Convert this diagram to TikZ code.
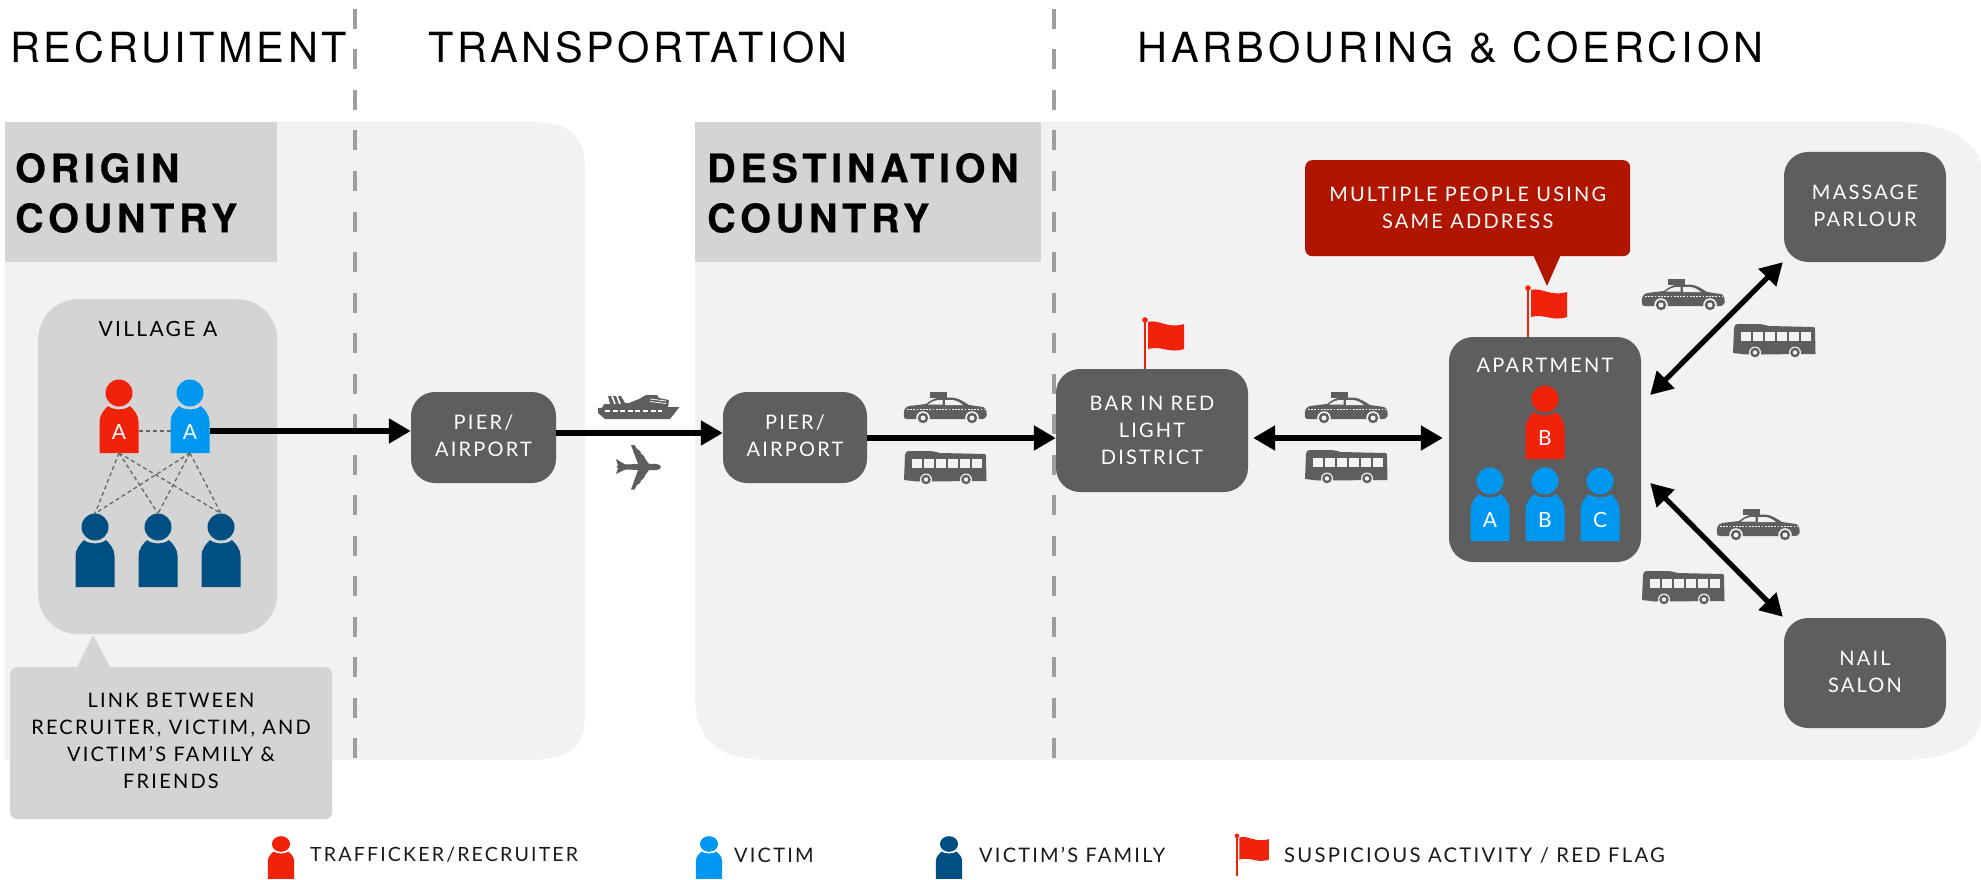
\documentclass[tikz,border=0pt]{standalone}
\usepackage{fontspec}
\usetikzlibrary{arrows.meta,calc}
\newfontfamily\lt[LetterSpace=11]{Lato}
\newfontfamily\hv[LetterSpace=8.5]{TeX Gyre Heros}
\newfontfamily\hvw[LetterSpace=9.6]{TeX Gyre Heros}
\newfontfamily\hvb[LetterSpace=12,BoldFeatures={FakeBold=0.5}]{TeX Gyre Heros}
\definecolor{bgfill}{HTML}{F2F2F2}
\definecolor{hdr}{HTML}{D4D4D4}
\definecolor{dk}{HTML}{5E5E5E}
\definecolor{rd}{HTML}{F0220A}
\definecolor{bl}{HTML}{0097F0}
\definecolor{nv}{HTML}{004F82}
\definecolor{crim}{HTML}{B01500}
\newcommand\sz[1]{\fontsize{#1}{27}\selectfont}
\tikzset{
  plate/.style={fill=dk,text=white,rounded corners=24pt,inner sep=0pt,align=center,font=\lt\sz{20},text depth=3pt},
  bigarrow/.style={draw=black,line width=5.2pt,-{Triangle[length=22pt,width=24pt]}},
  bothway/.style={draw=black,line width=5.2pt,{Triangle[length=22pt,width=24pt]}-{Triangle[length=22pt,width=24pt]}},
  tie/.style={draw=black!60,line width=1.3pt,dash pattern=on 4pt off 3pt},
  divider/.style={draw=black!38,line width=3.4pt,dash pattern=on 20pt off 20.5pt},
  title/.style={font=\hv\sz{41.5},text=black,inner sep=0pt,anchor=west},
  country/.style={font=\hvb\bfseries\fontsize{39.5}{50}\selectfont,text=black,inner sep=0pt,anchor=west,align=left},
  caption/.style={font=\lt\sz{20},text=black,inner sep=0pt,align=center},
  legend/.style={font=\lt\sz{20},text=black!90,inner sep=0pt,anchor=west},
}
% person: name, x, y of head centre, colour, label, xscale, yscale
\newcommand\humanfig[7]{%
  \begin{scope}[shift={(#2,#3)},xscale=#6,yscale=#7]
    \fill[#4] (0,0) circle (13.5);
    \fill[#4] (-19.5,60) -- (-19.5,29) .. controls (-19.5,22) and (-15,17) .. (-11,13)
      .. controls (-6,17.5) and (6,17.5) .. (11,13)
      .. controls (15,17) and (19.5,22) .. (19.5,29) -- (19.5,60) -- cycle;
    \coordinate (#1-foot) at (0,60);
    \coordinate (#1-top) at (0,-13.5);
    \coordinate (#1-e) at (19.5,38);
    \coordinate (#1-w) at (-19.5,38);
    \node[text=white,font=\lt\sz{21},inner sep=0pt] (#1-l) at (0,39) {#5};
  \end{scope}}
% flag: name, x, y of pole base, scale
\newcommand\flagmark[4]{%
  \begin{scope}[shift={(#2,#3)},scale=#4]
    \coordinate (#1) at (0,0);
    \fill[rd] (-1.2,0) -- (-1.2,-49) -- (1.2,-49) -- (1.2,0) -- cycle;
    \fill[rd] (0,-49) circle (2.8);
    \fill[rd] (3,-47) .. controls (14,-50) and (22,-40) .. (39,-45) -- (39,-20)
      .. controls (24,-15) and (16,-24) .. (3,-20) -- cycle;
  \end{scope}}
\tikzset{
  pics/taxi/.style={code={
    \fill[dk] (-15,-16) rectangle (2,-10.5);
    \fill[dk] (-41,8) .. controls (-42,3) and (-40,-1) .. (-36,-2) -- (-19,-4) .. controls (-14,-8) and (-9,-10.5) .. (-5,-10.5)
       -- (7,-10.5) .. controls (14,-10) and (19,-6) .. (24,-3) -- (38,-1) .. controls (41,0) and (42,4) .. (41.5,8)
       .. controls (41,11) and (38,11) .. (36,11) -- (-38,11) .. controls (-41,11) and (-41,10) .. (-41,8) -- cycle;
    \fill[#1] (-17,-3.5) .. controls (-13,-6.5) and (-10,-8) .. (-5,-8) -- (-2.5,-8) -- (-2.5,-3.5) -- cycle;
    \fill[#1] (0,-8) -- (6,-8) .. controls (11,-8) and (14,-6) .. (18,-3) -- (0,-3) -- cycle;
    \draw[#1,line width=1.6pt,dash pattern=on 1.8pt off 1.4pt] (-38,1.5) -- (39,1.5);
    \foreach \wx in {-22,27}{
      \fill[#1] (\wx,10) circle (6.8);
      \fill[dk] (\wx,10) circle (5.2);
      \fill[#1] (\wx,10) circle (2.5);}
  }},
  pics/bus/.style={code={
    \fill[dk] (-41,13) -- (-40,-12) .. controls (-40,-15) and (-38,-16) .. (-36,-16) -- (-17,-16)
       .. controls (-12,-16) and (-9,-15) .. (-5,-14) -- (39,-13) .. controls (41,-13) and (41,-12) .. (41,-10) -- (41.5,14) -- (-28,14.5) -- cycle;
    \foreach \wi in {0,...,5}{
      \fill[#1] ({-33+\wi*12},-8.5) rectangle ({-23.3+\wi*12},0.5);}
    \foreach \wx in {-19,21}{
      \fill[#1] (\wx,12.5) circle (6);
      \fill[dk] (\wx,12.5) circle (4.8);
      \fill[#1] (\wx,12.5) circle (2.2);}
  }},
  pics/ship/.style={code={
    \fill[dk] (-40,1) -- (41.5,0) -- (32,12) -- (-33,12) -- (-40,6) -- cycle;
    \fill[dk] (-36,1) -- (-34,-3) -- (-28,-3) -- (-30,-11) -- (-27,-11) -- (-24,-3) -- (-22,-3) -- (-25,-11) -- (-22,-11) -- (-19,-3) -- (-17,-3) -- (-20,-11) -- (-17,-11) -- (-13,-4) -- (-9,-4) -- (1,-8) -- (8,-12) -- (19,-12) -- (21,-9) -- (31,-7) -- (30,1) -- cycle;
    \draw[#1,line width=.8pt] (12,-8) -- (28,-6) (12,-5.5) -- (28,-3.5);
    \draw[#1,line width=1.8pt,dash pattern=on 5pt off 2.6pt] (-33,4) -- (24,4);
  }},
  pics/plane/.style={code={
    \fill[dk] (-20,-2.5) -- (18,-3.2) .. controls (21,-3.2) and (23,-1) .. (23,0) .. controls (23,1) and (21,3.2) .. (18,3.2) -- (-18,2.5) -- cycle;
    \fill[dk] (0,-3) -- (-7,-22) -- (-3.5,-22) -- (-1,-18) -- (2,-16) -- (3,-13.5) -- (6,-11) -- (7,-8.5) -- (11,-3) -- cycle;
    \fill[dk] (0,3) -- (-7,22.5) -- (-3.5,22.5) -- (-1,18) -- (2,16) -- (3,13.5) -- (6,11) -- (7,8.5) -- (11,3) -- cycle;
    \fill[dk] (-12,-2) -- (-22,-8) -- (-20,-1) -- (-22,0) -- (-20,1) -- (-22,7) -- (-12,2) -- cycle;
  }},
}
\begin{document}
\begin{tikzpicture}[x=1pt,y=-1pt]
\useasboundingbox (0,0) rectangle (1981,880);
\fill[white] (0,0) rectangle (1981,880);
% regions
\fill[bgfill] (5,122) -- (525,122) .. controls (568,122) and (585,132) .. (585,172) -- (585,712) .. controls (585,750) and (568,760) .. (525,760) -- (5,760) -- cycle;
\fill[bgfill] (695,122) -- (1900,122) .. controls (1955,122) and (1981,150) .. (1981,165) -- (1981,722) .. controls (1975,745) and (1950,760) .. (1900,760) -- (770,760) .. controls (718,760) and (695,740) .. (695,695) -- cycle;
\node[fill=hdr,minimum width=272pt,minimum height=140pt,anchor=north west,inner sep=0pt] (originhead) at (5,122) {};
\node[fill=hdr,minimum width=346pt,minimum height=140pt,anchor=north west,inner sep=0pt] (desthead) at (695,122) {};
\node[country] (origintxt) at (15,193) {ORIGIN\\COUNTRY};
\node[country] (desttxt) at (707,193) {DESTINATION\\COUNTRY};
% dividers
\coordinate (d1a) at (355,9); \coordinate (d1b) at (355,760);
\coordinate (d2a) at (1054,9); \coordinate (d2b) at (1054,760);
\draw[divider] (d1a) -- (d1b);
\draw[divider] (d2a) -- (d2b);
% titles
\node[title] (t1) at (10,47) {RECRUITMENT};
\node[title] (t2) at (428,47) {TRANSPORTATION};
\node[title,font=\hvw\sz{41.5}] (t3) at (1137,47) {HARBOURING \& COERCION};
% village
\node[fill=hdr,rounded corners=40pt,minimum width=239pt,minimum height=335pt,anchor=north west,inner sep=0pt] (village) at (38,299) {};
\node[caption,font=\lt\sz{21}] (villagetxt) at (158,329) {VILLAGE A};
% callouts
\fill[hdr] (77,667) -- (93,635) -- (110,667) -- cycle;
\node[fill=hdr,rounded corners=7pt,minimum width=322pt,minimum height=152pt,caption,anchor=north west] (linkbox) at (10,667) {};
\node[caption] (linktxt) at (171,741) {LINK BETWEEN\\RECRUITER, VICTIM, AND\\VICTIM’S FAMILY \&\\FRIENDS};
\fill[crim] (1531,250) -- (1547,286) -- (1563,250) -- cycle;
\node[fill=crim,rounded corners=7pt,minimum width=325pt,minimum height=96pt,anchor=north west,inner sep=0pt,text=white,font=\lt\sz{20},align=center] (redbox) at (1305,160) {MULTIPLE PEOPLE USING\\SAME ADDRESS};
% people in the village
\humanfig{ra}{119}{393}{rd}{A}{1}{1}
\humanfig{va}{190}{393}{bl}{A}{1}{1}
\humanfig{f1}{95}{527}{nv}{}{1}{1}
\humanfig{f2}{158}{527}{nv}{}{1}{1}
\humanfig{f3}{221}{527}{nv}{}{1}{1}
\draw[tie] (ra-e) -- (va-w);
\foreach \src in {ra,va}{\foreach \dst in {f1,f2,f3}{
  \draw[tie] (\src-foot) -- (\dst-top);}}
% places
\node[plate,minimum width=145pt,minimum height=91pt] (pier1) at (483.5,437.5) {PIER/\\AIRPORT};
\node[plate,minimum width=144pt,minimum height=91pt] (pier2) at (795,437.5) {PIER/\\AIRPORT};
\node[plate,minimum width=192pt,minimum height=123pt,text depth=0pt] (bar) at (1152,430.5) {BAR IN RED\\LIGHT\\DISTRICT};
\node[plate,minimum width=192pt,minimum height=225pt] (apt) at (1545,449.5) {};
\node[text=white,font=\lt\sz{20},inner sep=0pt] (apttxt) at (1545,365) {APARTMENT};
\node[plate,minimum width=162pt,minimum height=110pt] (massage) at (1865,207) {MASSAGE\\PARLOUR};
\node[plate,minimum width=162pt,minimum height=110pt] (nail) at (1865,673) {NAIL\\SALON};
\humanfig{rb}{1545}{399}{rd}{B}{1}{1}
\humanfig{ca}{1490}{481}{bl}{A}{1}{1}
\humanfig{cb}{1545}{481}{bl}{B}{1}{1}
\humanfig{cc}{1600}{481}{bl}{C}{1}{1}
% connectors
\draw[bigarrow] (va-e) -- (va-e -| pier1.west);
\draw[bigarrow] ($(pier1.east)+(0,-4.5)$) -- ($(pier2.west)+(0,-4.5)$);
\draw[bigarrow] ($(pier2.east)+(0,0.5)$) -- ($(pier2.east -| bar.west)+(0,0.5)$);
\draw[bothway] ($(bar.east)+(5,7.5)$) -- ($(apt.west |- bar.east)+(-6,7.5)$);
\draw[bothway] ($(apt.east)+(9,-54.5)$) -- ($(massage.south west)+(-1,0)$);
\draw[bothway] ($(apt.east)+(9,33.5)$) -- ($(nail.north west)+(-1,-1)$);
% flags
\flagmark{flagbar}{1145}{369}{1}
\flagmark{flagapt}{1528}{337}{1}
% vehicles
\pic at (638,407) {ship=white};
\pic at (638,467) {plane=white};
\pic at (945,408) {taxi=bgfill};
\pic at (945,467) {bus=bgfill};
\pic at (1346,408) {taxi=bgfill};
\pic at (1346,466) {bus=bgfill};
\pic at (1683,295) {taxi=bgfill};
\pic at (1774,340) {bus=bgfill};
\pic at (1758,525) {taxi=bgfill};
\pic at (1683,587) {bus=bgfill};
% legend
\humanfig{k1}{281}{844}{rd}{}{0.67}{0.58}
\node[legend,font=\lt\sz{19.6}] (k1t) at (310,855) {TRAFFICKER/RECRUITER};
\humanfig{k2}{709}{844}{bl}{}{0.67}{0.58}
\node[legend] (k2t) at (734,855) {VICTIM};
\humanfig{k3}{949}{844}{nv}{}{0.67}{0.58}
\node[legend] (k3t) at (979,855) {VICTIM’S FAMILY};
\flagmark{k4}{1237}{876}{0.82}
\node[legend,font=\lt\sz{20.3}] (k4t) at (1284,855) {SUSPICIOUS ACTIVITY / RED FLAG};
\end{tikzpicture}
\end{document}
